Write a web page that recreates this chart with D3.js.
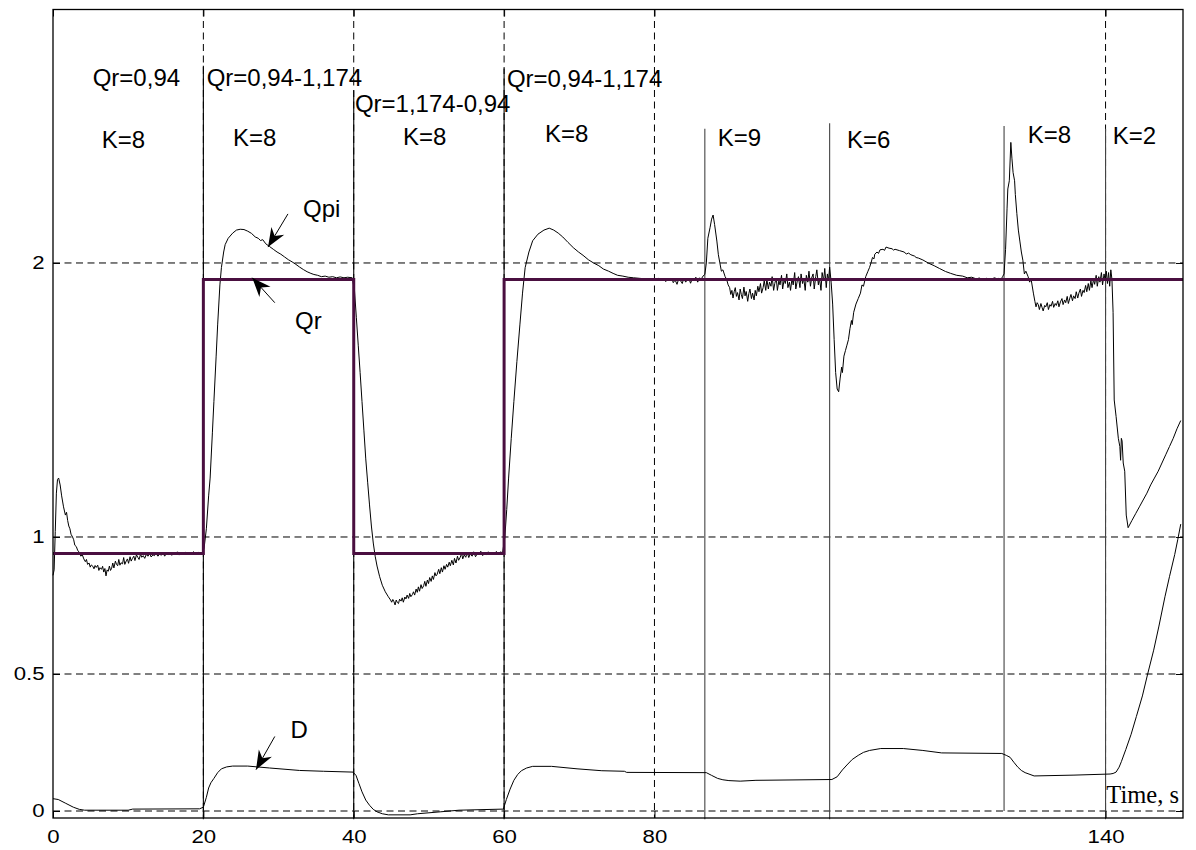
<!DOCTYPE html>
<html>
<head>
<meta charset="utf-8">
<script src="https://cdn.jsdelivr.net/npm/d3@7"></script>
<style>
  body { margin: 0; background: #fff; }
  svg { display: block; }
  .grid line { stroke: #000; stroke-width: 1; stroke-dasharray: 7,4.5; }
  .axis path { display: none; }
  .axis line { stroke: #000; }
  .axis text { font-family: "Liberation Sans", Arial, sans-serif; font-size: 18.5px; fill: #000; }
  .note { font-family: "Liberation Sans", Arial, sans-serif; font-size: 24px; fill: #000; }
</style>
</head>
<body>
<div id="chart"></div>
<script>
// ---- data ----
var xTicks = [0, 20, 40, 60, 80, 140];
var yTicks = [0, 0.5, 1, 2];

// reference flow Qr, step changes
var qrTimes = [0, 20, 40, 60, 150.3];
var qrValues = [0.94, 1.94, 0.94, 1.94];

// K switching instants and the top of their marker lines
var switchTimes = [20, 40, 60, 86.7, 103.3, 126.5, 140];
var switchTops = [2.72, 2.63, 2.71, 2.49, 2.51, 2.50, 2.49];
var switchBottoms = [-0.03, -0.03, -0.03, -0.03, -0.03, 0, -0.03];

// measured Qpi  [t, value]
var qpi = [
  [0,0.86],[0.15,0.88],[0.3,1.02],[0.45,1.16],[0.6,1.21],[0.75,1.215],[0.95,1.19],[1.15,1.15],[1.4,1.11],[1.65,1.08],
  [1.8,1.09],[1.95,1.06],[2.1,1.04],[2.25,1.03],[2.4,1.01],[2.6,1.0],[2.75,0.99],[2.9,0.97],[3.1,0.965],[3.3,0.95],
  [3.5,0.945],[3.7,0.93],[3.9,0.935],
  [4.1,0.92],[4.3,0.91],[4.45,0.918],[4.6,0.9],[4.8,0.905],[4.95,0.89],[5.1,0.898],[5.3,0.893],[5.45,0.884],[5.6,0.896],
  [5.75,0.889],[5.95,0.897],[6.1,0.878],[6.25,0.888],[6.45,0.882],[6.6,0.893],[6.75,0.872],[6.9,0.885],[7.05,0.858],[7.2,0.88],
  [7.35,0.875],[7.5,0.894],[7.65,0.878],[7.8,0.886],[7.95,0.905],[8.1,0.887],[8.3,0.912],[8.45,0.9],[8.6,0.895],[8.75,0.918],
  [8.9,0.897],[9.05,0.906],[9.25,0.902],[9.4,0.925],[9.55,0.9],[9.75,0.913],[9.9,0.92],[10.05,0.904],[10.25,0.928],[10.4,0.912],
  [10.55,0.921],[10.75,0.93],[10.9,0.914],[11.1,0.935],[11.3,0.925],[11.45,0.918],[11.65,0.938],[11.8,0.926],[12.0,0.932],[12.2,0.922],
  [12.4,0.936],[12.65,0.93],[12.85,0.942],[13.05,0.927],[13.3,0.935],[13.5,0.932],[13.7,0.94],[13.95,0.93],[14.2,0.938],[14.4,0.933],
  [14.6,0.945],[14.85,0.93],[15.1,0.94],[15.35,0.936],[15.6,0.942],[15.8,0.933],[16.05,0.94],[16.3,0.938],[16.55,0.946],[16.8,0.934],
  [17.05,0.942],[17.3,0.938],[17.6,0.944],[17.85,0.937],[18.1,0.942],[18.4,0.94],[18.7,0.946],[19.0,0.939],[19.3,0.944],[19.6,0.941],
  [19.9,0.945],
  [20.1,0.96],[20.4,1.03],[20.7,1.15],[20.9,1.215],[21.2,1.38],[21.4,1.494],[21.7,1.66],[21.9,1.774],[22.2,1.92],[22.4,1.983],
  [22.7,2.04],[22.9,2.067],[23.3,2.09],[23.9,2.109],[24.4,2.12],[24.9,2.123],[25.4,2.122],[25.9,2.116],[26.4,2.108],[26.9,2.095],
  [27.3,2.09],[27.6,2.082],[27.9,2.085],[28.3,2.07],[28.8,2.06],[29.3,2.05],[29.8,2.04],[30.3,2.032],[30.8,2.022],[31.3,2.012],
  [31.8,2.004],[32.3,1.995],[32.8,1.985],[33.3,1.976],[33.8,1.968],[34.3,1.962],[34.7,1.958],[35.2,1.955],[35.7,1.95],[36.2,1.952],
  [36.7,1.948],[37.2,1.95],[37.7,1.946],[38.2,1.949],[38.7,1.946],[39.2,1.948],[39.8,1.946],
  [40.1,1.9],[40.35,1.8],[40.6,1.70],[40.85,1.6],[41.1,1.494],[41.35,1.39],[41.6,1.285],[41.85,1.2],[42.1,1.117],[42.35,1.04],
  [42.6,0.978],[42.85,0.93],[43.1,0.894],[43.45,0.855],[43.8,0.824],[44.2,0.8],[44.6,0.782],
  [44.9,0.77],[45.05,0.762],[45.2,0.772],[45.35,0.764],[45.5,0.752],[45.65,0.77],[45.8,0.761],[45.95,0.757],[46.1,0.773],[46.3,0.766],
  [46.45,0.778],[46.6,0.762],[46.8,0.781],[46.95,0.774],[47.1,0.788],[47.3,0.776],[47.45,0.794],[47.6,0.782],[47.8,0.79],[47.95,0.8],
  [48.1,0.788],[48.3,0.81],[48.45,0.798],[48.6,0.818],[48.75,0.802],[48.95,0.826],[49.1,0.812],[49.3,0.822],[49.45,0.838],[49.6,0.82],
  [49.8,0.843],[49.95,0.83],[50.1,0.852],[50.3,0.838],[50.45,0.858],[50.6,0.845],[50.8,0.87],[50.95,0.858],[51.1,0.864],[51.3,0.882],
  [51.45,0.866],[51.65,0.888],[51.8,0.872],[52.0,0.895],[52.15,0.882],[52.35,0.9],[52.5,0.89],[52.7,0.908],[52.85,0.895],[53.05,0.915],
  [53.25,0.898],[53.4,0.922],[53.6,0.905],[53.8,0.93],[53.95,0.915],[54.15,0.925],[54.35,0.94],[54.5,0.92],[54.7,0.935],[54.9,0.926],
  [55.1,0.944],[55.3,0.925],[55.5,0.938],[55.75,0.93],[55.95,0.946],[56.2,0.928],[56.45,0.94],[56.65,0.935],[56.9,0.948],[57.15,0.932],
  [57.4,0.942],[57.65,0.936],[57.9,0.946],[58.15,0.935],[58.4,0.944],[58.7,0.938],[58.95,0.947],[59.25,0.94],[59.5,0.945],[59.8,0.943],
  [60.1,1.0],[60.35,1.1],[60.6,1.215],[60.95,1.36],[61.3,1.494],[61.7,1.64],[62.1,1.774],[62.45,1.89],[62.8,1.983],[63.3,2.04],
  [63.8,2.081],[64.5,2.105],[65.3,2.12],[66.0,2.127],[66.6,2.12],[67.2,2.109],[67.8,2.095],[68.5,2.075],[69.2,2.056],[69.9,2.04],
  [70.5,2.028],[71.2,2.012],[71.9,2.0],[72.6,1.99],[73.2,1.978],[73.9,1.97],[74.5,1.962],[75.1,1.955],[75.8,1.952],[76.5,1.948],
  [77.2,1.946],[78.0,1.944],[78.8,1.942],[79.6,1.943],
  [80.2,1.94],[80.5,1.944],[80.75,1.936],[81.0,1.942],[81.3,1.94],[81.5,1.932],[81.8,1.943],[82.05,1.935],[82.3,1.945],[82.5,1.928],
  [82.75,1.938],[83.0,1.922],[83.2,1.94],[83.45,1.936],[83.7,1.925],[83.9,1.945],[84.15,1.93],[84.35,1.938],[84.6,1.942],[84.8,1.926],
  [85.05,1.944],[85.3,1.935],[85.5,1.948],[85.75,1.93],[86.0,1.946],[86.2,1.94],[86.45,1.952],[86.7,1.958],
  [86.9,2.0],[87.1,2.09],[87.4,2.13],[87.6,2.16],[87.8,2.175],[88.0,2.14],[88.3,2.08],[88.5,2.03],[88.7,2.0],[88.9,1.97],
  [89.1,1.975],[89.4,1.95],[89.6,1.94],[89.8,1.92],[90.0,1.91],
  [90.15,1.885],[90.3,1.9],[90.45,1.872],[90.6,1.895],[90.75,1.91],[90.9,1.878],[91.05,1.892],[91.25,1.865],[91.4,1.905],[91.55,1.885],
  [91.7,1.87],[91.9,1.912],[92.05,1.88],[92.2,1.896],[92.4,1.86],[92.55,1.888],[92.7,1.905],[92.9,1.87],[93.05,1.89],[93.25,1.865],
  [93.4,1.9],[93.55,1.88],[93.75,1.915],[93.9,1.895],[94.1,1.925],[94.25,1.89],[94.45,1.91],[94.6,1.935],[94.8,1.9],[94.95,1.94],
  [95.15,1.905],[95.3,1.93],[95.5,1.915],[95.65,1.95],[95.85,1.9],[96.0,1.925],[96.2,1.945],[96.35,1.9],[96.55,1.935],[96.7,1.92],
  [96.9,1.955],[97.05,1.905],[97.25,1.94],[97.4,1.925],[97.6,1.96],[97.75,1.91],[97.95,1.93],[98.1,1.9],[98.3,1.945],[98.45,1.92],
  [98.65,1.965],[98.8,1.905],[99.0,1.935],[99.15,1.95],[99.35,1.91],[99.5,1.96],[99.7,1.925],[99.85,1.945],[100.05,1.9],[100.2,1.955],
  [100.4,1.93],[100.55,1.97],[100.75,1.915],[100.9,1.945],[101.1,1.96],[101.25,1.905],[101.45,1.95],[101.6,1.975],[101.8,1.92],[101.95,1.945],
  [102.15,1.9],[102.3,1.965],[102.5,1.935],[102.65,1.98],[102.85,1.91],[103.0,1.96],[103.15,1.935],[103.3,1.985],
  [103.5,1.93],[103.7,1.85],[103.9,1.72],[104.1,1.6],[104.3,1.54],[104.5,1.53],[104.7,1.58],[104.9,1.62],[105.0,1.6],[105.2,1.66],
  [105.4,1.68],[105.6,1.70],[105.8,1.72],[106.0,1.76],[106.2,1.79],[106.3,1.775],[106.5,1.82],[106.8,1.85],[107.1,1.87],[107.4,1.89],
  [107.6,1.92],[107.8,1.915],[108.1,1.95],[108.4,1.97],[108.6,1.983],[108.8,2.0],[109.0,2.02],[109.2,2.015],[109.3,2.032],[109.6,2.04],
  [109.8,2.035],[110.0,2.048],[110.4,2.05],[110.6,2.046],[110.8,2.058],[111.2,2.054],[111.6,2.052],[111.8,2.047],[112.0,2.05],[112.6,2.045],
  [113.2,2.04],[113.5,2.033],[113.8,2.036],[114.1,2.03],[114.6,2.025],[114.8,2.02],[115.1,2.018],[115.7,2.011],[116.4,2.0],[117.2,1.99],
  [117.9,1.98],[118.7,1.969],[119.4,1.962],[120.2,1.955],[121.0,1.952],[121.6,1.946],[122.2,1.948],[122.8,1.942],[123.2,1.945],[123.7,1.94],
  [124.2,1.944],[124.5,1.938],[124.8,1.942],[125.3,1.946],[125.6,1.938],[125.8,1.944],[126.1,1.94],[126.3,1.95],[126.5,1.96],
  [126.7,2.05],[126.9,2.2],[127.0,2.27],[127.2,2.3],[127.4,2.44],[127.55,2.38],[127.7,2.33],[127.9,2.3],[128.0,2.25],[128.2,2.18],
  [128.4,2.12],[128.6,2.08],[128.8,2.04],[129.0,2.01],[129.2,1.96],[129.4,1.97],[129.7,1.95],[129.9,1.93],[130.1,1.94],[130.4,1.89],
  [130.6,1.86],[130.75,1.84],[130.9,1.855],[131.05,1.848],[131.2,1.83],[131.4,1.852],[131.55,1.838],[131.7,1.825],[131.9,1.845],[132.05,1.84],
  [132.25,1.855],[132.4,1.83],[132.6,1.848],[132.75,1.842],[132.95,1.86],[133.1,1.838],[133.3,1.852],[133.45,1.845],[133.65,1.862],[133.8,1.84],
  [134.0,1.858],[134.2,1.87],[134.35,1.848],[134.55,1.865],[134.7,1.855],[134.9,1.878],[135.05,1.852],[135.25,1.872],[135.4,1.885],[135.6,1.862],
  [135.75,1.88],[135.95,1.87],[136.1,1.895],[136.3,1.872],[136.45,1.89],[136.65,1.905],[136.8,1.878],[137.0,1.9],[137.15,1.892],[137.35,1.918],
  [137.5,1.895],[137.7,1.925],[137.85,1.9],[138.05,1.935],[138.2,1.91],[138.4,1.94],[138.55,1.922],[138.75,1.955],[138.9,1.915],[139.1,1.95],
  [139.25,1.93],[139.45,1.965],[139.6,1.92],[139.8,1.96],[139.95,1.935],[140.1,1.97],[140.25,1.925],[140.4,1.965],[140.55,1.915],[140.7,1.975],
  [140.85,1.94],[141.0,1.82],
  [141.15,1.5],[141.4,1.44],[141.7,1.36],[141.9,1.33],[142.0,1.28],[142.1,1.36],[142.2,1.35],[142.35,1.27],[142.55,1.24],[142.75,1.08],
  [143.0,1.034],[143.5,1.06],[144.0,1.085],[144.5,1.11],[145.0,1.135],[145.5,1.16],[146.0,1.19],[146.5,1.215],[147.0,1.24],[147.5,1.27],
  [148.0,1.3],[148.5,1.33],[149.0,1.36],[149.5,1.395],[150.0,1.425]
];

// D signal  [t, value]
var dSig = [
  [0,0.045],[0.7,0.042],[1.7,0.028],[2.7,0.014],[3.5,0.006],[4.2,0.003],[10,0.003],[10.6,0.007],[19.5,0.008],[20,0.014],
  [20.4,0.05],[20.7,0.084],[21.0,0.103],[21.4,0.119],[21.9,0.14],[22.4,0.154],[23.1,0.161],[23.9,0.164],[25.9,0.164],[28.8,0.157],
  [32.8,0.148],[36,0.145],[39.9,0.142],[40.3,0.13],[40.7,0.1],[41.1,0.07],[41.6,0.04],[42.1,0.021],[42.6,0.006],[43.1,-0.003],
  [43.8,-0.01],[44.6,-0.014],[47.5,-0.014],[48.5,-0.01],[51.5,-0.003],[54,0.003],[59.9,0.007],[60.3,0.042],[60.8,0.08],[61.3,0.112],
  [61.8,0.133],[62.3,0.147],[63,0.157],[63.8,0.163],[66.3,0.163],[69.7,0.154],[73,0.147],[76,0.145],[76.3,0.141],[86.9,0.14],
  [87.6,0.13],[88.4,0.119],[89.1,0.114],[89.9,0.111],[91.4,0.109],[93.5,0.112],[103.6,0.115],[104.3,0.125],[105,0.15],[105.6,0.168],
  [106.3,0.188],[107.1,0.203],[107.8,0.214],[108.6,0.221],[110.1,0.228],[113.1,0.228],[115.7,0.221],[118.2,0.212],[126.2,0.21],[126.8,0.203],
  [127.3,0.196],[127.8,0.178],[128.3,0.161],[128.8,0.148],[129.3,0.14],[130.5,0.128],[135.8,0.131],[140.6,0.135],[141.0,0.137],[141.4,0.142],
  [141.8,0.16],[142.1,0.18],[142.7,0.225],[143.4,0.28],[144.1,0.345],[144.9,0.42],[145.6,0.5],[146.4,0.587],[147.1,0.675],[147.9,0.782],
  [148.5,0.855],[149.2,0.936],[149.6,0.99],[150,1.047]
];

// text annotations: [text, t, value]
var notes = [
  ["Qr=0,94", 5.28, 2.646], ["K=8", 6.48, 2.421],
  ["Qr=0,94-1,174", 20.44, 2.646], ["K=8", 23.94, 2.428],
  ["Qr=1,174-0,94", 40.16, 2.551], ["K=8", 46.54, 2.431],
  ["Qr=0,94-1,174", 60.37, 2.642], ["K=8", 65.43, 2.442],
  ["K=9", 88.43, 2.427], ["K=6", 105.6, 2.42], ["K=8", 129.65, 2.438], ["K=2", 140.96, 2.434]
];

// arrow callouts: [label, labelT, labelV, tailT, tailV, tipT, tipV]
var callouts = [
  ["Qpi", 33.25, 2.168, 31.25, 2.179, 28.6, 2.058],
  ["Qr", 32.2, 1.759, 29.5, 1.855, 26.5, 1.946],
  ["D", 31.6, 0.268, 29.5, 0.272, 27.0, 0.151]
];

// ---- chart ----
var W = 1196, H = 850;
var plotL = 53, plotR = 1183, plotT = 9.5, plotB = 818;

var x = d3.scaleLinear().domain([0, 150.3]).range([plotL, plotR]);
var y = d3.scaleLinear().domain([-0.0255, 2.925]).range([plotB, plotT]);

var svg = d3.select('#chart').append('svg')
  .attr('width', W).attr('height', H);

svg.append('defs').append('marker')
  .attr('id', 'head')
  .attr('viewBox', '-20 -8 22 16')
  .attr('refX', 0).attr('refY', 0)
  .attr('markerUnits', 'userSpaceOnUse')
  .attr('markerWidth', 22).attr('markerHeight', 16)
  .attr('orient', 'auto')
  .append('path')
  .attr('d', 'M0,0 L-19,-7.5 L-13,0 L-19,7.5 Z')
  .attr('fill', '#000');

// grid
var grid = svg.append('g').attr('class', 'grid');
grid.selectAll('.gx').data(xTicks.slice(1)).enter().append('line')
  .attr('x1', function (d) { return x(d); }).attr('x2', function (d) { return x(d); })
  .attr('y1', plotT).attr('y2', plotB);
grid.selectAll('.gy').data(yTicks).enter().append('line')
  .attr('x1', plotL).attr('x2', plotR)
  .attr('y1', function (d) { return y(d); }).attr('y2', function (d) { return y(d); });

// switch marker lines
svg.append('g').selectAll('line').data(switchTimes).enter().append('line')
  .attr('x1', function (d) { return x(d); }).attr('x2', function (d) { return x(d); })
  .attr('y1', function (d, i) { return y(switchTops[i]); })
  .attr('y2', function (d, i) { return y(switchBottoms[i]); })
  .attr('stroke', function (d, i) { return i < 3 ? '#000' : '#444'; })
  .attr('stroke-width', 1.1);

var line = d3.line()
  .x(function (d) { return x(d[0]); })
  .y(function (d) { return y(d[1]); });

// D and Qpi
svg.append('path').datum(dSig)
  .attr('d', line).attr('fill', 'none').attr('stroke', '#000').attr('stroke-width', 1);
svg.append('path').datum(qpi)
  .attr('d', line).attr('fill', 'none').attr('stroke', '#000').attr('stroke-width', 1);

// Qr step line
var qrPts = qrValues.map(function (v, i) { return [qrTimes[i], v]; });
qrPts.push([qrTimes[qrTimes.length - 1], qrValues[qrValues.length - 1]]);
var stepLine = d3.line()
  .curve(d3.curveStepAfter)
  .x(function (d) { return x(d[0]); })
  .y(function (d) { return y(d[1]); });
svg.append('path').datum(qrPts)
  .attr('d', stepLine)
  .attr('fill', 'none').attr('stroke', '#4a0f40').attr('stroke-width', 3);

// frame
svg.append('rect')
  .attr('x', plotL).attr('y', plotT)
  .attr('width', plotR - plotL).attr('height', plotB - plotT)
  .attr('fill', 'none').attr('stroke', '#000').attr('stroke-width', 1.3);

// axes, inward ticks like the original
var xAxis = d3.axisBottom(x).tickValues(xTicks).tickSize(-7).tickPadding(12)
  .tickFormat(d3.format('d'));
var yAxis = d3.axisLeft(y).tickValues(yTicks).tickSize(-7).tickPadding(7)
  .tickFormat(function (d) { return String(d); });

svg.append('g').attr('class', 'axis')
  .attr('transform', 'translate(0,' + plotB + ')')
  .call(xAxis)
  .selectAll('text').attr('transform', 'scale(1.2,1)');
svg.append('g').attr('class', 'axis')
  .attr('transform', 'translate(' + plotL + ',0)')
  .call(yAxis)
  .selectAll('text').attr('transform', 'scale(1.2,1)');
svg.append('g').attr('class', 'axis')
  .attr('transform', 'translate(0,' + plotT + ')')
  .call(d3.axisTop(x).tickValues(xTicks).tickSize(-7).tickFormat(''));
svg.append('g').attr('class', 'axis')
  .attr('transform', 'translate(' + plotR + ',0)')
  .call(d3.axisRight(y).tickValues(yTicks).tickSize(-7).tickFormat(''));

// annotations
svg.append('g').selectAll('text').data(notes).enter().append('text')
  .attr('class', 'note')
  .attr('x', function (d) { return x(d[1]); })
  .attr('y', function (d) { return y(d[2]); })
  .text(function (d) { return d[0]; });

var co = svg.append('g');
co.selectAll('line').data(callouts).enter().append('line')
  .attr('x1', function (d) { return x(d[3]); }).attr('y1', function (d) { return y(d[4]); })
  .attr('x2', function (d) { return x(d[5]); }).attr('y2', function (d) { return y(d[6]); })
  .attr('stroke', '#000').attr('stroke-width', 1)
  .attr('marker-end', 'url(#head)');
co.selectAll('text').data(callouts).enter().append('text')
  .attr('class', 'note')
  .attr('x', function (d) { return x(d[1]); })
  .attr('y', function (d) { return y(d[2]); })
  .text(function (d) { return d[0]; });

svg.append('text')
  .attr('x', x(140.1)).attr('y', y(0.029))
  .style('font', '24.5px "Liberation Serif", "Times New Roman", serif')
  .text('Time, s');
</script>
</body>
</html>
